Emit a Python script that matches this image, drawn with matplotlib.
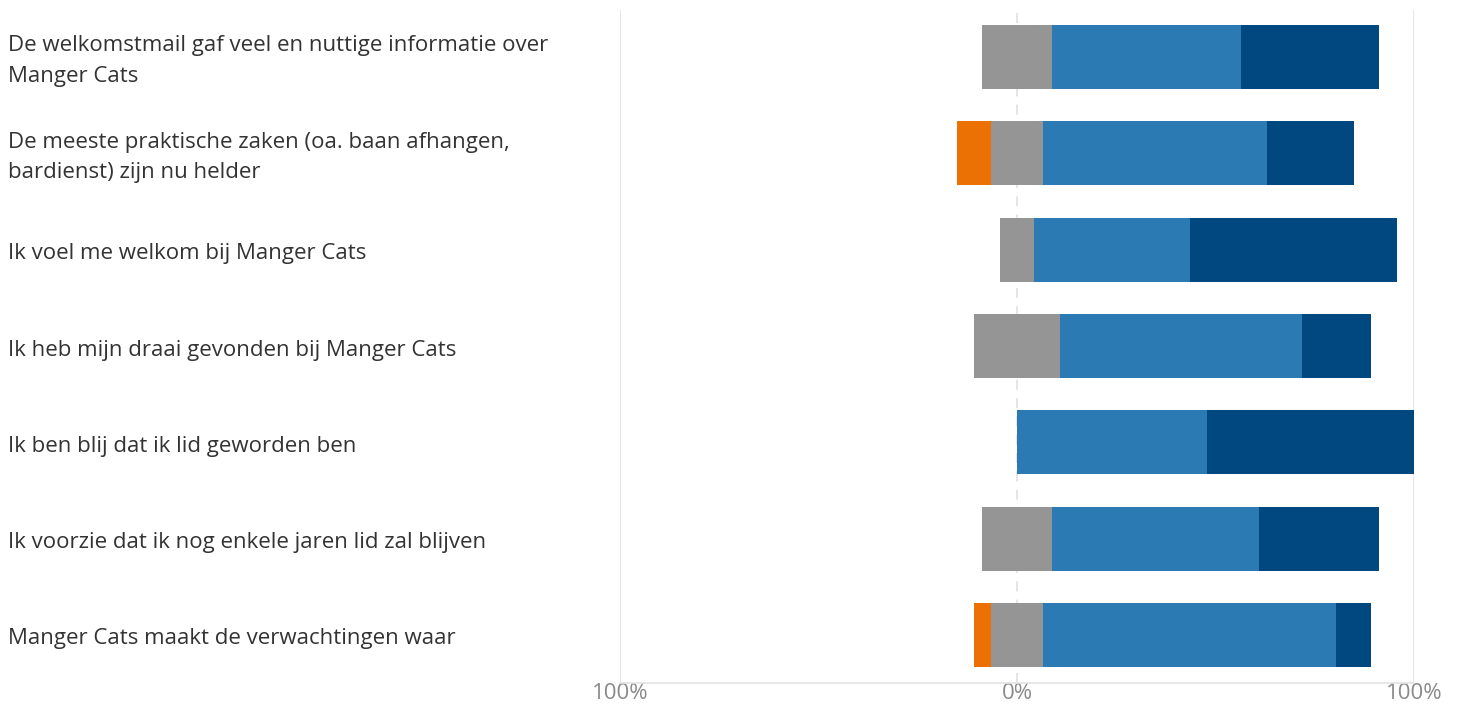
import matplotlib
matplotlib.use("Agg")
import matplotlib.pyplot as plt
import matplotlib.transforms as mtrans
import numpy as np

# ── data (answers per statement, 23 respondents) ─────────────────────────────
statements = [
    "De welkomstmail gaf veel en nuttige informatie over\nManger Cats",
    "De meeste praktische zaken (oa. baan afhangen,\nbardienst) zijn nu helder",
    "Ik voel me welkom bij Manger Cats",
    "Ik heb mijn draai gevonden bij Manger Cats",
    "Ik ben blij dat ik lid geworden ben",
    "Ik voorzie dat ik nog enkele jaren lid zal blijven",
    "Manger Cats maakt de verwachtingen waar",
]
oneens = [0, 2, 0, 0, 0, 0, 1]
neutraal = [4, 3, 2, 5, 0, 4, 3]
eens = [11, 13, 9, 14, 11, 12, 17]
helemaal_eens = [8, 5, 12, 4, 12, 7, 2]

tick_pos = [-100, 0, 100]
tick_labels = ["100%", "0%", "100%"]

C_ORANGE = "#eb7105"
C_GREY = "#959595"
C_BLUE = "#2b7ab3"
C_DARK = "#00487f"

plt.rcParams["font.family"] = ["Open Sans", "DejaVu Sans"]

# ── percentages ──────────────────────────────────────────────────────────────
tot = np.array(oneens) + np.array(neutraal) + np.array(eens) + np.array(helemaal_eens)
p_one = np.array(oneens) / tot * 100
p_neu = np.array(neutraal) / tot * 100
p_eens = np.array(eens) / tot * 100
p_hel = np.array(helemaal_eens) / tot * 100

y = np.arange(len(statements))
h = 0.665

fig = plt.figure(figsize=(14.6, 7.06), dpi=100)
ax = fig.add_axes([620 / 1460, 1 - 683 / 706, 794 / 1460, 673 / 706])

ax.barh(y, p_one, left=-p_neu / 2 - p_one, height=h, color=C_ORANGE)
ax.barh(y, p_neu, left=-p_neu / 2, height=h, color=C_GREY)
ax.barh(y, p_eens, left=p_neu / 2, height=h, color=C_BLUE)
ax.barh(y, p_hel, left=p_neu / 2 + p_eens, height=h, color=C_DARK)

ax.set_xlim(-100, 100)
ax.set_ylim(6.5, -0.49)

ax.axvline(-100, color="#e3e3e3", linewidth=1.2, zorder=0)
ax.axvline(100, color="#e3e3e3", linewidth=1.2, zorder=0)
ax.axvline(0, color="#e0e0e0", linewidth=1.2, linestyle=(0, (6, 5)), zorder=0)

for sp in ["top", "right", "left"]:
    ax.spines[sp].set_visible(False)
ax.spines["bottom"].set_color("#e3e3e3")
ax.spines["bottom"].set_linewidth(1.2)

ax.set_yticks([])
ax.set_xticks(tick_pos)
ax.set_xticklabels(tick_labels, fontsize=16, color="#8a8a8a")
ax.tick_params(axis="x", length=0, pad=0)

# statements, left-aligned at the figure edge (slightly below bar centre)
tr = mtrans.blended_transform_factory(fig.transFigure, ax.transData)
tr = tr + mtrans.ScaledTranslation(0, -4 / 100, fig.dpi_scale_trans)
for yi, lab in zip(y, statements):
    ax.text(8 / 1460, yi, lab, transform=tr, ha="left", va="center",
            fontsize=16, color="#333333", linespacing=1.6)

fig.savefig("out.png", dpi=100, facecolor="white")
